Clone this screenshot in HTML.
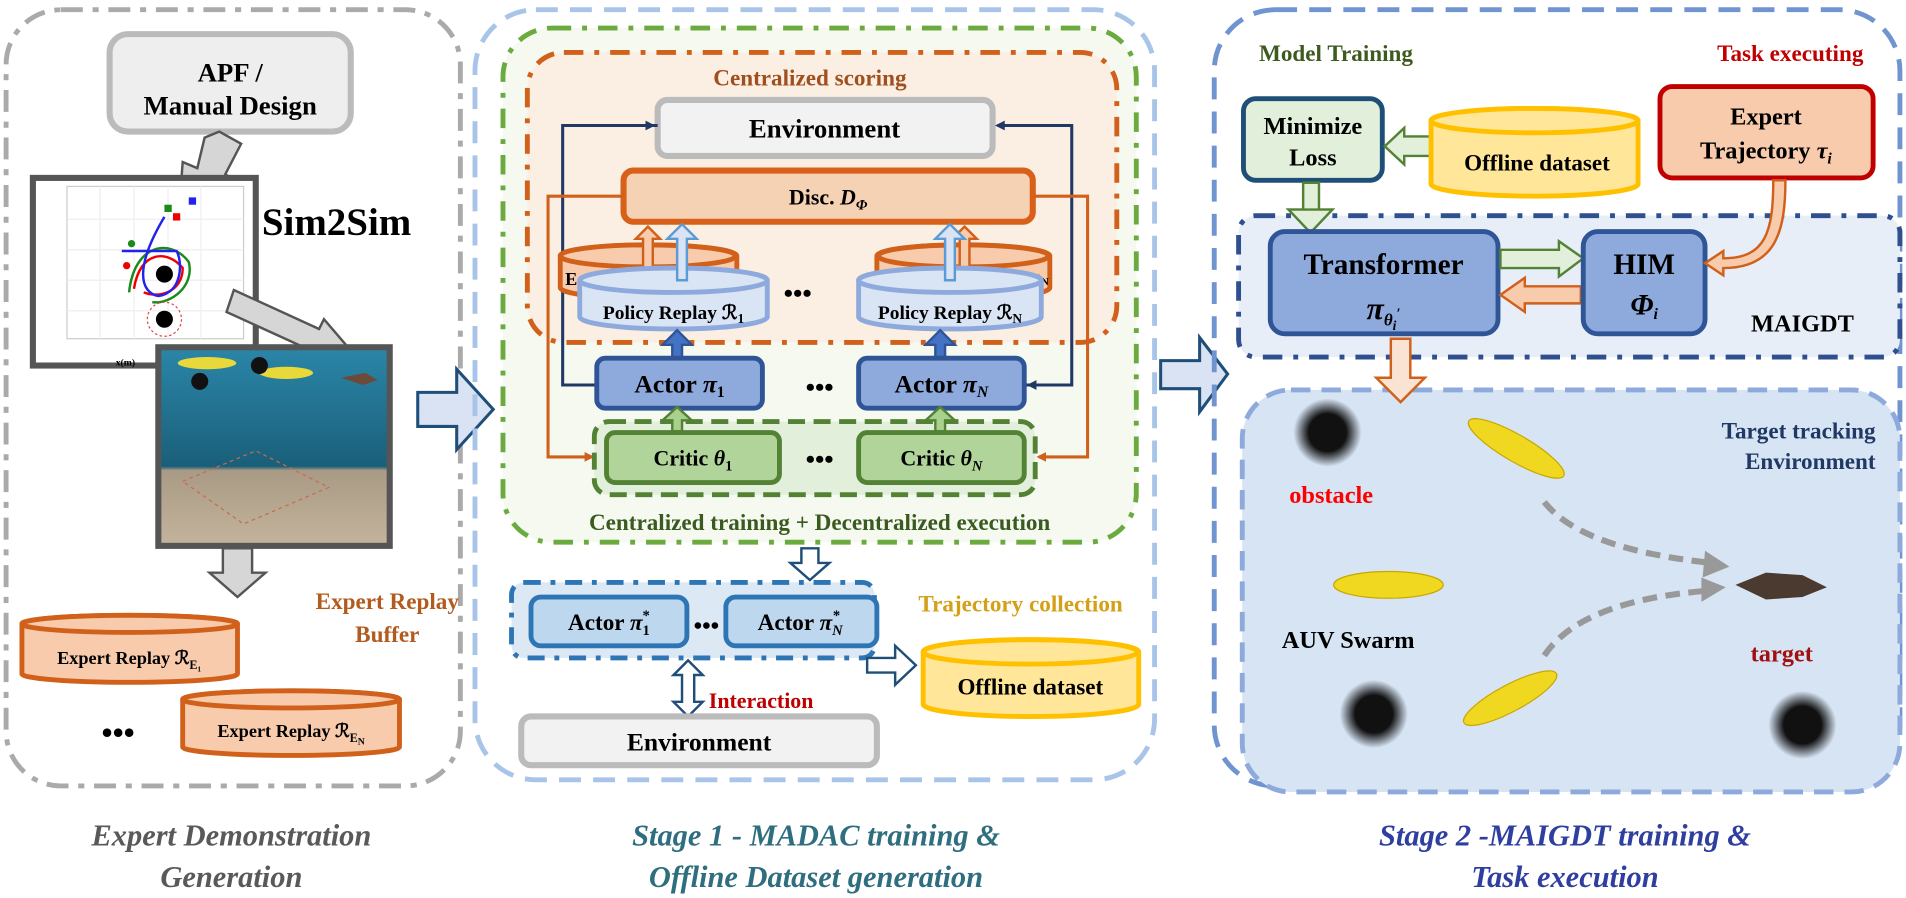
<!DOCTYPE html>
<html><head><meta charset="utf-8"><style>
html,body{margin:0;padding:0;background:#fff;}
svg{display:block;}
text{font-family:"Liberation Serif",serif;font-weight:bold;}
</style></head><body>
<svg width="1906" height="898" viewBox="0 0 1565 737" preserveAspectRatio="none" xmlns="http://www.w3.org/2000/svg">
<defs>
<marker id="an" markerWidth="8" markerHeight="8" refX="6" refY="4" orient="auto" markerUnits="userSpaceOnUse"><path d="M0,0 L8,4 L0,8 Z" fill="#1f3864"/></marker>
<marker id="ao" markerWidth="8" markerHeight="8" refX="6" refY="4" orient="auto" markerUnits="userSpaceOnUse"><path d="M0,0 L8,4 L0,8 Z" fill="#d0601a"/></marker>
<radialGradient id="fz"><stop offset="0.55" stop-color="#111"/><stop offset="1" stop-color="#111" stop-opacity="0"/></radialGradient>
<linearGradient id="sea" x1="0" y1="0" x2="0" y2="1"><stop offset="0" stop-color="#2b86a8"/><stop offset="0.6" stop-color="#1a5f7a"/><stop offset="0.62" stop-color="#a99a85"/><stop offset="1" stop-color="#c4b49c"/></linearGradient>
</defs>

<!-- LEFT PANEL -->
<rect x="5" y="8" width="373" height="637" rx="45" fill="none" stroke="#aaa" stroke-width="4" stroke-dasharray="18,8,5,8"/>
<rect x="90" y="28" width="198" height="80" rx="15" fill="#eee" stroke="#bbb" stroke-width="5"/>
<text x="189" y="67" font-size="22" text-anchor="middle">APF /</text>
<text x="189" y="94" font-size="22" text-anchor="middle">Manual Design</text>
<polygon points="180,108 198,118 185,143 196,150 148,160 150,133 162,138 168,113" fill="#d6d6d6" stroke="#555" stroke-width="2"/>
<rect x="27" y="146" width="183" height="154" fill="#fff" stroke="#555" stroke-width="5"/>
<rect x="55" y="153" width="145" height="125" fill="none" stroke="#ccc" stroke-width="1"/>
<g stroke="#eee" stroke-width="1"><line x1="82" y1="153" x2="82" y2="278"/><line x1="110" y1="153" x2="110" y2="278"/><line x1="138" y1="153" x2="138" y2="278"/><line x1="165" y1="153" x2="165" y2="278"/><line x1="55" y1="180" x2="200" y2="180"/><line x1="55" y1="205" x2="200" y2="205"/><line x1="55" y1="230" x2="200" y2="230"/><line x1="55" y1="255" x2="200" y2="255"/></g>
<path d="M106,240 C110,200 140,195 155,215 C160,235 140,250 125,248" fill="none" stroke="#1a8a1a" stroke-width="2"/>
<path d="M110,237 C115,205 138,205 150,220 C150,240 130,245 118,240" fill="none" stroke="#e00" stroke-width="2"/>
<path d="M100,206 L145,206 C150,215 150,240 130,243 C115,240 110,220 135,178" fill="none" stroke="#2222ee" stroke-width="2"/>
<circle cx="135" cy="225" r="7" fill="#000"/><circle cx="135" cy="262" r="7" fill="#000"/>
<circle cx="135" cy="262" r="14" fill="none" stroke="#d44" stroke-dasharray="2,2"/>
<circle cx="108" cy="200" r="3" fill="#1a8a1a"/><circle cx="104" cy="218" r="3" fill="#e00"/><rect x="135" y="168" width="6" height="6" fill="#1a8a1a"/><rect x="142" y="175" width="6" height="6" fill="#e00"/><rect x="155" y="162" width="6" height="6" fill="#22e"/>
<text x="95" y="300" font-size="8" font-weight="normal">x(m)</text>
<text x="215" y="193" font-size="32">Sim2Sim</text>
<polygon points="192,238 262,270 266,262 290,290 252,297 256,288 186,256" fill="#d6d6d6" stroke="#555" stroke-width="2"/>
<rect x="130" y="285" width="190" height="163" fill="url(#sea)" stroke="#555" stroke-width="5"/>
<ellipse cx="170" cy="298" rx="24" ry="5" fill="#e8d83a"/><ellipse cx="235" cy="306" rx="22" ry="5" fill="#e8d83a"/>
<circle cx="213" cy="300" r="7" fill="#111"/><circle cx="164" cy="313" r="7" fill="#111"/>
<path d="M280,310 l20,-4 l10,6 l-12,4 z" fill="#6b4a3a"/>
<g stroke="#c86a50" stroke-width="1" stroke-dasharray="3,3" fill="none"><path d="M150,395 L210,370 L270,400 L200,430 Z"/></g>
<polygon points="183,450 207,450 207,470 218,470 195,490 172,470 183,470" fill="#d6d6d6" stroke="#555" stroke-width="2"/>
<text x="318" y="500" font-size="19" text-anchor="middle" fill="#b35a1e">Expert Replay</text>
<text x="318" y="527" font-size="19" text-anchor="middle" fill="#b35a1e">Buffer</text>
<path d="M18,512 A88.5,7 0 0 1 195,512 V553 A88.5,7 0 0 1 18,553 Z" fill="#f8cbad" stroke="#d0601a" stroke-width="4"/>
<ellipse cx="106.5" cy="512" rx="88.5" ry="7" fill="#f8cbad" stroke="#d0601a" stroke-width="4"/>
<text x="106" y="545" font-size="15" text-anchor="middle">Expert Replay ℛ<tspan font-size="10" dy="4">E₁</tspan></text>
<path d="M150,574 A89,7 0 0 1 328,574 V613 A89,7 0 0 1 150,613 Z" fill="#f8cbad" stroke="#d0601a" stroke-width="4"/>
<ellipse cx="239" cy="574" rx="89" ry="7" fill="#f8cbad" stroke="#d0601a" stroke-width="4"/>
<text x="239" y="605" font-size="15" text-anchor="middle">Expert Replay ℛ<tspan font-size="10" dy="4">E<tspan font-size="8" dy="2">N</tspan></tspan></text>
<text x="97" y="610" font-size="26" text-anchor="middle">•••</text>
<text x="190" y="694" font-size="25" font-style="italic" text-anchor="middle" fill="#595959">Expert Demonstration</text>
<text x="190" y="728" font-size="25" font-style="italic" text-anchor="middle" fill="#595959">Generation</text>

<polygon points="343,322 375,322 375,303 405,336 375,369 375,350 343,350" fill="#dae3f3" stroke="#1f4e79" stroke-width="2.5"/>

<!-- MIDDLE PANEL -->
<rect x="390" y="8" width="558" height="632" rx="50" fill="none" stroke="#a8c4e8" stroke-width="4" stroke-dasharray="18,10"/>
<rect x="413" y="23" width="520" height="422" rx="40" fill="#f5f9f0" stroke="#6aaa3e" stroke-width="4" stroke-dasharray="16,9,4,9"/>
<rect x="433" y="43" width="484" height="238" rx="30" fill="#fbefe3" stroke="#d0601a" stroke-width="4" stroke-dasharray="16,9,4,9"/>
<text x="665" y="70" font-size="19" text-anchor="middle" fill="#a0501e">Centralized scoring</text>
<rect x="540" y="82" width="275" height="46" rx="8" fill="#f2f2f2" stroke="#bbb" stroke-width="5"/>
<text x="677" y="113" font-size="22" text-anchor="middle">Environment</text>
<rect x="512" y="140" width="336" height="42" rx="8" fill="#f6d2b5" stroke="#d86018" stroke-width="5"/>
<text x="680" y="168" font-size="18" text-anchor="middle">Disc. <tspan font-style="italic">D</tspan><tspan font-size="12" dy="4" font-style="italic">Φ</tspan></text>
<polyline points="540,103 462,103 462,316 498,316" fill="none" stroke="#1f3864" stroke-width="2.5" marker-end="url(#an)"/>
<path d="M462,103 L536,103" stroke="#1f3864" stroke-width="2.5" marker-end="url(#an)"/>
<polyline points="842,316 880,316 880,103 819,103" fill="none" stroke="#1f3864" stroke-width="2.5" marker-end="url(#an)"/>
<path d="M880,316 L845,316" stroke="#1f3864" stroke-width="2.5" marker-end="url(#an)"/>
<polyline points="512,161 450,161 450,375 486,375" fill="none" stroke="#d0601a" stroke-width="2.5" marker-end="url(#ao)"/>
<polyline points="848,161 893,161 893,375 853,375" fill="none" stroke="#d0601a" stroke-width="2.5" marker-end="url(#ao)"/>
<path d="M460,210 A72,9 0 0 1 605,210 V236 A72,9 0 0 1 460,236 Z" fill="#f8cbad" stroke="#d0601a" stroke-width="4"/>
<ellipse cx="532" cy="210" rx="72" ry="9" fill="#f8cbad" stroke="#d0601a" stroke-width="4"/>
<text x="464" y="234" font-size="15">E</text>
<path d="M720,210 A70,9 0 0 1 862,210 V236 A70,9 0 0 1 720,236 Z" fill="#f8cbad" stroke="#d0601a" stroke-width="4"/>
<ellipse cx="791" cy="210" rx="70" ry="9" fill="#f8cbad" stroke="#d0601a" stroke-width="4"/>
<text x="846" y="234" font-size="13">E<tspan font-size="9">N</tspan></text>
<polygon points="528,220 536,220 536,196 542,196 532,186 522,196 528,196" fill="#f8cbad" stroke="#d0601a" stroke-width="2"/>
<polygon points="788,220 796,220 796,196 802,196 792,186 782,196 788,196" fill="#f8cbad" stroke="#d0601a" stroke-width="2"/>
<path d="M476,230 A77,10 0 0 1 630,230 V260 A77,10 0 0 1 476,260 Z" fill="#d9e4f5" stroke="#8eaadc" stroke-width="4"/>
<ellipse cx="553" cy="230" rx="77" ry="10" fill="#d9e4f5" stroke="#8eaadc" stroke-width="4"/>
<text x="553" y="262" font-size="16" text-anchor="middle">Policy Replay ℛ<tspan font-size="11" dy="3">1</tspan></text>
<path d="M705,230 A75,10 0 0 1 855,230 V260 A75,10 0 0 1 705,260 Z" fill="#d9e4f5" stroke="#8eaadc" stroke-width="4"/>
<ellipse cx="780" cy="230" rx="75" ry="10" fill="#d9e4f5" stroke="#8eaadc" stroke-width="4"/>
<text x="780" y="262" font-size="16" text-anchor="middle">Policy Replay ℛ<tspan font-size="11" dy="3">N</tspan></text>
<polygon points="556,230 564,230 564,196 572,196 560,184 548,196 556,196" fill="#dae3f3" stroke="#5b9bd5" stroke-width="2"/>
<polygon points="776,230 784,230 784,196 792,196 780,184 768,196 776,196" fill="#dae3f3" stroke="#5b9bd5" stroke-width="2"/>
<text x="655" y="248" font-size="22" text-anchor="middle">•••</text>
<polygon points="552,294 560,294 560,283 568,283 556,271 544,283 552,283" fill="#4472c4" stroke="#2f5597" stroke-width="2"/>
<polygon points="768,294 776,294 776,283 784,283 772,271 760,283 768,283" fill="#4472c4" stroke="#2f5597" stroke-width="2"/>
<rect x="490" y="294" width="136" height="41" rx="7" fill="#8eaadc" stroke="#2f5597" stroke-width="4"/>
<text x="558" y="322" font-size="21" text-anchor="middle">Actor <tspan font-style="italic">π</tspan><tspan font-size="13" dy="4">1</tspan></text>
<rect x="705" y="294" width="136" height="41" rx="7" fill="#8eaadc" stroke="#2f5597" stroke-width="4"/>
<text x="773" y="322" font-size="21" text-anchor="middle">Actor <tspan font-style="italic">π</tspan><tspan font-size="13" dy="4" font-style="italic">N</tspan></text>
<text x="673" y="325" font-size="22" text-anchor="middle">•••</text>
<rect x="488" y="346" width="362" height="60" rx="12" fill="#e2efda" stroke="#548235" stroke-width="4" stroke-dasharray="14,7"/>
<polygon points="552,354 560,354 560,345 568,345 556,334 544,345 552,345" fill="#a9d18e" stroke="#548235" stroke-width="2"/>
<polygon points="768,354 776,354 776,345 784,345 772,334 760,345 768,345" fill="#a9d18e" stroke="#548235" stroke-width="2"/>
<rect x="498" y="355" width="142" height="41" rx="7" fill="#b0d49a" stroke="#548235" stroke-width="4"/>
<text x="569" y="382" font-size="18" text-anchor="middle">Critic <tspan font-style="italic">θ</tspan><tspan font-size="12" dy="4">1</tspan></text>
<rect x="705" y="355" width="136" height="41" rx="7" fill="#b0d49a" stroke="#548235" stroke-width="4"/>
<text x="773" y="382" font-size="18" text-anchor="middle">Critic <tspan font-style="italic">θ</tspan><tspan font-size="12" dy="4" font-style="italic">N</tspan></text>
<text x="673" y="384" font-size="22" text-anchor="middle">•••</text>
<text x="673" y="435" font-size="19" text-anchor="middle" fill="#3a5a20">Centralized training + Decentralized execution</text>
<polygon points="658,450 672,450 672,462 681,462 665,476 649,462 658,462" fill="#fff" stroke="#1f4e79" stroke-width="2"/>
<rect x="420" y="478" width="298" height="62" rx="10" fill="#dde8f5" stroke="#2e75b6" stroke-width="4" stroke-dasharray="14,8,4,8"/>
<rect x="436" y="490" width="128" height="40" rx="8" fill="#bdd7ee" stroke="#2e75b6" stroke-width="4"/>
<text x="500" y="517" font-size="19" text-anchor="middle">Actor <tspan font-style="italic">π</tspan><tspan font-size="12" dy="4">1</tspan><tspan font-size="12" dx="-6" dy="-12">*</tspan></text>
<rect x="596" y="490" width="124" height="40" rx="8" fill="#bdd7ee" stroke="#2e75b6" stroke-width="4"/>
<text x="657" y="517" font-size="19" text-anchor="middle">Actor <tspan font-style="italic">π</tspan><tspan font-size="12" dy="4" font-style="italic">N</tspan><tspan font-size="12" dx="-8" dy="-12">*</tspan></text>
<text x="580" y="520" font-size="20" text-anchor="middle">•••</text>
<text x="838" y="502" font-size="19" text-anchor="middle" fill="#d4a017">Trajectory collection</text>
<polygon points="712,540 735,540 735,530 752,546 735,562 735,552 712,552" fill="#fff" stroke="#1f4e79" stroke-width="2"/>
<path d="M758,535 A88,10 0 0 1 935,535 V578 A88,10 0 0 1 758,578 Z" fill="#ffe699" stroke="#ffc000" stroke-width="4"/>
<ellipse cx="846" cy="535" rx="88" ry="10" fill="#ffe699" stroke="#ffc000" stroke-width="4"/>
<text x="846" y="570" font-size="19" text-anchor="middle">Offline dataset</text>
<polygon points="565,542 577,554 570,554 570,576 577,576 565,588 553,576 560,576 560,554 553,554" fill="#fff" stroke="#1f4e79" stroke-width="2"/>
<text x="582" y="581" font-size="18" fill="#c00000">Interaction</text>
<rect x="428" y="588" width="292" height="40" rx="8" fill="#f2f2f2" stroke="#bbb" stroke-width="5"/>
<text x="574" y="616" font-size="21" text-anchor="middle">Environment</text>
<text x="670" y="694" font-size="25" font-style="italic" text-anchor="middle" fill="#2e6e7e">Stage 1 - MADAC training &amp;</text>
<text x="670" y="728" font-size="25" font-style="italic" text-anchor="middle" fill="#2e6e7e">Offline Dataset generation</text>

<polygon points="953,296 985,296 985,277 1008,307 985,338 985,319 953,319" fill="#dae3f3" stroke="#1f4e79" stroke-width="2.5"/>

<!-- RIGHT PANEL -->
<rect x="997" y="8" width="563" height="637" rx="50" fill="none" stroke="#7094d0" stroke-width="4" stroke-dasharray="18,10"/>
<text x="1097" y="50" font-size="19" text-anchor="middle" fill="#3d5a1f">Model Training</text>
<text x="1470" y="50" font-size="19" text-anchor="middle" fill="#c00000">Task executing</text>
<rect x="1021" y="81" width="114" height="67" rx="10" fill="#e2efda" stroke="#1f4e79" stroke-width="4"/>
<text x="1078" y="110" font-size="20" text-anchor="middle">Minimize</text>
<text x="1078" y="136" font-size="20" text-anchor="middle">Loss</text>
<polygon points="1175,112 1153,112 1153,105 1137,120 1153,135 1153,128 1175,128" fill="#e2efda" stroke="#548235" stroke-width="2"/>
<path d="M1175,99 A85,10 0 0 1 1345,99 V151 A85,10 0 0 1 1175,151 Z" fill="#ffe699" stroke="#ffc000" stroke-width="4"/>
<ellipse cx="1260" cy="99" rx="85" ry="10" fill="#ffe699" stroke="#ffc000" stroke-width="4"/>
<text x="1262" y="140" font-size="19" text-anchor="middle">Offline dataset</text>
<rect x="1363" y="71" width="175" height="75" rx="10" fill="#f8cbad" stroke="#c00000" stroke-width="4"/>
<text x="1450" y="102" font-size="20" text-anchor="middle">Expert</text>
<text x="1450" y="130" font-size="20" text-anchor="middle">Trajectory <tspan font-style="italic">τ</tspan><tspan font-size="13" dy="4" font-style="italic">i</tspan></text>
<polygon points="1070,150 1083,150 1083,172 1094,172 1076,191 1058,172 1070,172" fill="#e2efda" stroke="#548235" stroke-width="2"/>
<rect x="1017" y="177" width="543" height="116" rx="14" fill="#e8eef8" stroke="#2f4f8f" stroke-width="4" stroke-dasharray="16,9,4,9"/>
<polygon points="1076,172 1094,172 1076,191 1058,172" fill="#e2efda" stroke="#548235" stroke-width="2"/>
<rect x="1043" y="190" width="187" height="84" rx="12" fill="#8eaadc" stroke="#2f5597" stroke-width="4"/>
<text x="1136" y="225" font-size="24" text-anchor="middle">Transformer</text>
<text x="1136" y="262" font-size="26" text-anchor="middle" font-style="italic">π<tspan font-size="14" dy="5">θ</tspan><tspan font-size="11" dy="4">i</tspan><tspan font-size="12" dy="-10">′</tspan></text>
<polygon points="1232,205 1280,205 1280,198 1300,212 1280,227 1280,220 1232,220" fill="#e2efda" stroke="#548235" stroke-width="2"/>
<polygon points="1298,235 1252,235 1252,228 1232,242 1252,256 1252,249 1298,249" fill="#f8cbad" stroke="#d0601a" stroke-width="2"/>
<rect x="1300" y="190" width="100" height="84" rx="12" fill="#8eaadc" stroke="#2f5597" stroke-width="4"/>
<text x="1350" y="225" font-size="24" text-anchor="middle">HIM</text>
<text x="1350" y="258" font-size="24" text-anchor="middle" font-style="italic">Φ<tspan font-size="13" dy="4">i</tspan></text>
<path d="M1456,148 C1456,190 1450,212 1415,212 L1415,206 L1400,216 L1415,226 L1415,220 C1458,220 1466,190 1466,148 Z" fill="#f8cbad" stroke="#d0601a" stroke-width="2"/>
<text x="1480" y="272" font-size="20" text-anchor="middle">MAIGDT</text>
<rect x="1020" y="320" width="540" height="330" rx="40" fill="#d6e4f4" stroke="#8eaadc" stroke-width="4" stroke-dasharray="16,9"/>
<polygon points="1142,278 1158,278 1158,310 1170,310 1150,330 1130,310 1142,310" fill="#fbe3d3" stroke="#d0601a" stroke-width="2"/>
<text x="1540" y="360" font-size="19" text-anchor="end" fill="#1f3864">Target tracking</text>
<text x="1540" y="385" font-size="19" text-anchor="end" fill="#1f3864">Environment</text>
<circle cx="1090" cy="355" r="28" fill="url(#fz)"/>
<text x="1093" y="413" font-size="20" text-anchor="middle" fill="#ff0000">obstacle</text>
<ellipse cx="1245" cy="368" rx="45" ry="11" fill="#f0d820" stroke="#c8a800" transform="rotate(30 1245 368)"/>
<ellipse cx="1140" cy="480" rx="45" ry="11" fill="#f0d820" stroke="#c8a800"/>
<ellipse cx="1240" cy="573" rx="43" ry="11" fill="#f0d820" stroke="#c8a800" transform="rotate(-28 1240 573)"/>
<text x="1107" y="532" font-size="20" text-anchor="middle">AUV Swarm</text>
<circle cx="1128" cy="586" r="28" fill="url(#fz)"/>
<circle cx="1480" cy="595" r="28" fill="url(#fz)"/>
<path d="M1268,412 C1290,440 1340,455 1405,462" fill="none" stroke="#999" stroke-width="5" stroke-dasharray="12,7"/>
<path d="M1268,538 C1290,505 1340,490 1400,485" fill="none" stroke="#999" stroke-width="5" stroke-dasharray="12,7"/>
<polygon points="1400,452 1420,465 1398,474" fill="#999"/>
<polygon points="1397,474 1417,482 1397,494" fill="#999"/>
<path d="M1425,480 L1450,470 L1480,472 L1500,482 L1480,490 L1450,492 Z" fill="#4a3a30"/>
<text x="1463" y="543" font-size="20" text-anchor="middle" fill="#a01010">target</text>
<text x="1285" y="694" font-size="25" font-style="italic" text-anchor="middle" fill="#2f3f9f">Stage 2 -MAIGDT training &amp;</text>
<text x="1285" y="728" font-size="25" font-style="italic" text-anchor="middle" fill="#2f3f9f">Task execution</text>
</svg>
</body></html>
